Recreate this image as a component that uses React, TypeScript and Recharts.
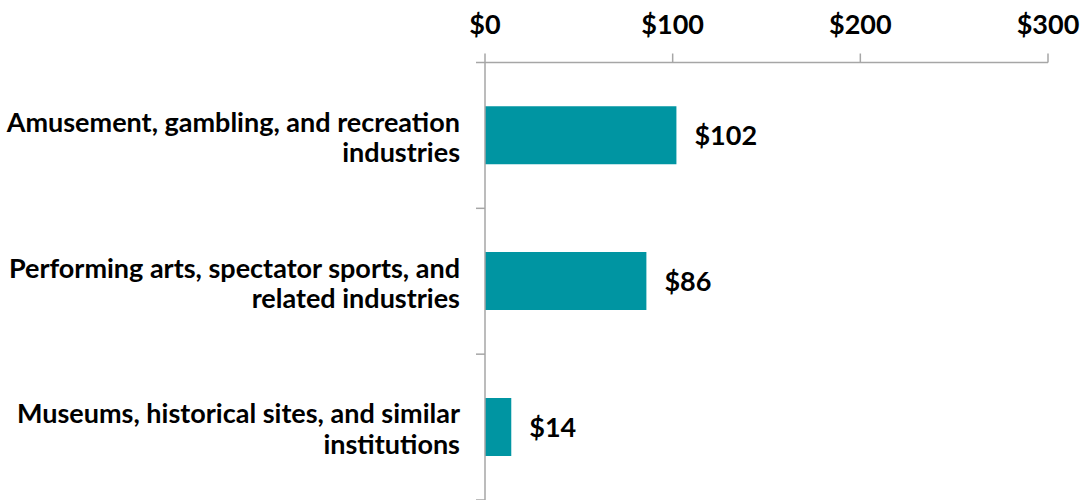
import React from 'react';
import { BarChart, Bar, XAxis, YAxis, LabelList } from 'recharts';

const categories = [
  'Amusement, gambling, and recreation industries',
  'Performing arts, spectator sports, and related industries',
  'Museums, historical sites, and similar institutions',
];
const categoryLines = [
  ['Amusement, gambling, and recreation', 'industries'],
  ['Performing arts, spectator sports, and', 'related industries'],
  ['Museums, historical sites, and similar', 'institutions'],
];
const values = [102, 86, 14];
const xTicks = [0, 100, 200, 300];

const data = categories.map((c, i) => ({ category: c, value: values[i] }));

const FONT = 'Lato, "Open Sans", sans-serif';
const AXIS = '#A6A6A6';
const BAR = '#0095A2';
const FS = 27;
const TICK_MARGIN = 25;
const TICK_LEN = 9;

const CatTick = (props: any) => {
  const { x, y, payload, height, visibleTicksCount } = props;
  const idx = categories.indexOf(payload.value);
  const lines = categoryLines[idx] || [String(payload.value)];
  const lh = 30.5;
  const start = -((lines.length - 1) * lh) / 2;
  const half =
    typeof payload.offset === 'number' && payload.offset > 0
      ? payload.offset
      : Number(height) / Number(visibleTicksCount) / 2;
  const axisX = x + TICK_MARGIN;
  const last = idx === categories.length - 1;
  return (
    <g>
      {isFinite(half) && (
        <line x1={axisX - TICK_LEN} x2={axisX} y1={y - half} y2={y - half} stroke={AXIS} strokeWidth={1.5} />
      )}
      {isFinite(half) && last && (
        <line x1={axisX - TICK_LEN} x2={axisX} y1={y + half} y2={y + half} stroke={AXIS} strokeWidth={1.5} />
      )}
      {lines.map((l, i) => (
        <text
          key={i}
          x={x}
          y={y + start + i * lh}
          dy={11.5}
          textAnchor="end"
          fontFamily={FONT}
          fontWeight={700}
          fontSize={FS}
          fill="#000"
        >
          {l}
        </text>
      ))}
    </g>
  );
};

export default function App() {
  return (
    <div style={{ position: 'absolute', left: 0, top: 0, width: 1081, height: 500, background: '#fff' }}>
      <BarChart
        width={1081}
        height={500}
        data={data}
        layout="vertical"
        margin={{ top: 0, right: 33, bottom: 0, left: 0 }}
        barCategoryGap="30%"
      >
        <XAxis
          type="number"
          orientation="top"
          domain={[0, 300]}
          ticks={xTicks}
          tickFormatter={(v: number) => '$' + v}
          height={62.5}
          tickSize={TICK_LEN}
          tickMargin={20}
          axisLine={{ stroke: AXIS, strokeWidth: 1.5 }}
          tickLine={{ stroke: AXIS, strokeWidth: 1.5 }}
          tick={{ fontFamily: FONT, fontWeight: 700, fontSize: FS, fill: '#000' }}
        />
        <YAxis
          type="category"
          dataKey="category"
          orientation="left"
          width={485}
          interval={0}
          axisLine={{ stroke: AXIS, strokeWidth: 1.5 }}
          tickLine={false}
          tickSize={0}
          tickMargin={TICK_MARGIN}
          tick={<CatTick />}
        />
        <Bar dataKey="value" fill={BAR} isAnimationActive={false}>
          <LabelList
            dataKey="value"
            position="right"
            offset={18}
            formatter={(v: any) => '$' + v}
            style={{ fontFamily: FONT, fontWeight: 700, fontSize: FS, fill: '#000' }}
          />
        </Bar>
      </BarChart>
    </div>
  );
}
